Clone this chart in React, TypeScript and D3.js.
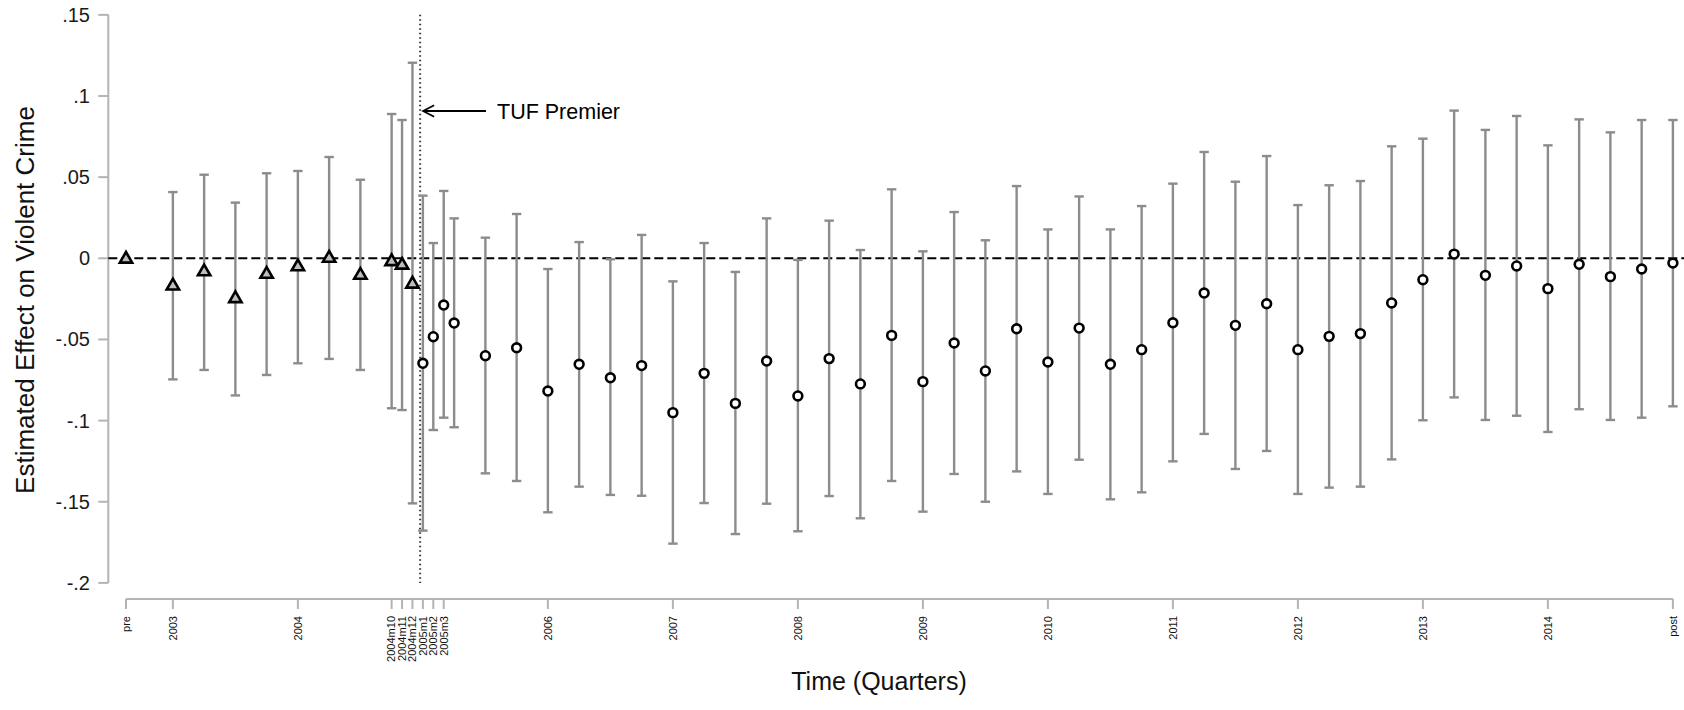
import React from "react";
import * as d3 from "d3";

// ---- data ----
const periods = [
  "pre", "2003q1", "2003q2", "2003q3", "2003q4", "2004q1", "2004q2", "2004q3",
  "2004m10", "2004m11", "2004m12",
  "2005m1", "2005m2", "2005m3", "2005q2", "2005q3", "2005q4",
  "2006q1", "2006q2", "2006q3", "2006q4",
  "2007q1", "2007q2", "2007q3", "2007q4",
  "2008q1", "2008q2", "2008q3", "2008q4",
  "2009q1", "2009q2", "2009q3", "2009q4",
  "2010q1", "2010q2", "2010q3", "2010q4",
  "2011q1", "2011q2", "2011q3", "2011q4",
  "2012q1", "2012q2", "2012q3", "2012q4",
  "2013q1", "2013q2", "2013q3", "2013q4",
  "2014q1", "2014q2", "2014q3", "2014q4",
  "post",
];

const estimates = [
  0, -0.0165, -0.0078, -0.0243, -0.0093, -0.0047, 0.0006, -0.0099,
  -0.0015, -0.0037, -0.0154,
  -0.0647, -0.0483, -0.0288, -0.0399, -0.06, -0.0551,
  -0.0818, -0.0653, -0.0736, -0.0661,
  -0.0951, -0.0709, -0.0894, -0.0633,
  -0.0848, -0.0618, -0.0774, -0.0475,
  -0.076, -0.0522, -0.0694, -0.0434,
  -0.0639, -0.043, -0.0653, -0.0563,
  -0.0397, -0.0214, -0.0413, -0.028,
  -0.0563, -0.0481, -0.0464, -0.0275,
  -0.0132, 0.0026, -0.0105, -0.0047,
  -0.0187, -0.0037, -0.0113, -0.0066,
  -0.0029,
];

const upper = [
  null, 0.0408, 0.0515, 0.0343, 0.0524, 0.0538, 0.0624, 0.0484,
  0.0889, 0.0852, 0.1205,
  0.0386, 0.0094, 0.0415, 0.0246, 0.0127, 0.0273,
  -0.0066, 0.01, -0.0006, 0.0144,
  -0.0142, 0.0094, -0.0084, 0.0246,
  -0.001, 0.0232, 0.0051, 0.0425,
  0.0043, 0.0285, 0.0111, 0.0445,
  0.0178, 0.0381, 0.0178, 0.0322,
  0.046, 0.0655, 0.0472, 0.063,
  0.0328, 0.045, 0.0476, 0.069,
  0.0737, 0.091, 0.0791, 0.0877,
  0.0696, 0.0856, 0.0776, 0.0852,
  0.0852,
];

const lower = [
  null, -0.0746, -0.0688, -0.0845, -0.0719, -0.0647, -0.062, -0.0688,
  -0.0924, -0.0935, -0.151,
  -0.1678, -0.1058, -0.0982, -0.1041, -0.1325, -0.1372,
  -0.1565, -0.1407, -0.1458, -0.1463,
  -0.1758, -0.1508, -0.1699, -0.1512,
  -0.1682, -0.1465, -0.1602, -0.1372,
  -0.1561, -0.1329, -0.15, -0.1313,
  -0.1452, -0.1241, -0.1485, -0.1442,
  -0.1251, -0.1082, -0.1298, -0.1187,
  -0.1452, -0.1413, -0.1407, -0.1239,
  -0.0998, -0.0857, -0.0996, -0.097,
  -0.107, -0.093, -0.0996, -0.0982,
  -0.0912,
];

const xTickLabels = [
  "pre", "2003", "2004", "2004m10", "2004m11", "2004m12", "2005m1", "2005m2", "2005m3",
  "2006", "2007", "2008", "2009", "2010", "2011", "2012", "2013", "2014", "post",
];

const yTicks = [0.15, 0.1, 0.05, 0, -0.05, -0.1, -0.15, -0.2];
const yTickLabels = [".15", ".1", ".05", "0", "-.05", "-.1", "-.15", "-.2"];

const eventTime = 2004.978; // TUF Premier
const eventLabel = "TUF Premier";
const xTitle = "Time (Quarters)";
const yTitle = "Estimated Effect on Violent Crime";

// map a period label to continuous time (years)
function toTime(p: string): number {
  if (p === "pre") return 2002.625;
  if (p === "post") return 2015;
  if (/^\d{4}$/.test(p)) return +p;
  const mq = p.match(/^(\d{4})q(\d)$/);
  if (mq) return +mq[1] + (+mq[2] - 1) / 4;
  const mm = p.match(/^(\d{4})m(\d+)$/);
  if (mm) return +mm[1] + (+mm[2] - 1) / 12;
  return NaN;
}

const W = 1684;
const H = 710;

export default function App() {
  const x = d3.scaleLinear().domain([2002.625, 2015]).range([126, 1672.9]);
  const y = d3.scaleLinear().domain([-0.2, 0.15]).range([582.9, 14.85]);

  const axisColor = "#b4b4b4";
  const barColor = "#8c8c8c";
  const font = "'Liberation Sans', Arial, sans-serif";

  const xAxisY = 599;
  const yAxisX = 108.3;

  const tri = d3.symbol().type(d3.symbolTriangle).size(66)();

  return (
    <svg
      width={W}
      height={H}
      style={{ position: "absolute", left: 0, top: 0, display: "block", background: "#fff" }}
      fontFamily={font}
    >
      <rect x={0} y={0} width={W} height={H} fill="#fff" />

      {/* Y axis */}
      <line x1={yAxisX} x2={yAxisX} y1={y(0.15)} y2={y(-0.2)} stroke={axisColor} strokeWidth={2} />
      {yTicks.map((t, i) => (
        <g key={"yt" + i}>
          <line x1={yAxisX - 10} x2={yAxisX} y1={y(t)} y2={y(t)} stroke={axisColor} strokeWidth={2} />
          <text
            x={90}
            y={y(t)}
            dy="0.35em"
            textAnchor="end"
            fontSize={20}
            fill="#1a1a1a"
          >
            {yTickLabels[i]}
          </text>
        </g>
      ))}
      <text
        transform={`translate(34, 300) rotate(-90)`}
        textAnchor="middle"
        fontSize={26}
        fill="#111"
      >
        {yTitle}
      </text>

      {/* X axis */}
      <line x1={x(2002.625)} x2={x(2015)} y1={xAxisY} y2={xAxisY} stroke={axisColor} strokeWidth={2} />
      {xTickLabels.map((lab, i) => {
        const xv = x(toTime(lab));
        return (
          <g key={"xt" + i}>
            <line x1={xv} x2={xv} y1={xAxisY} y2={xAxisY + 10} stroke={axisColor} strokeWidth={2} />
            <text
              transform={`translate(${xv}, ${xAxisY + 17}) rotate(-90)`}
              textAnchor="end"
              dy="0.35em"
              fontSize={11}
              fill="#111"
            >
              {lab}
            </text>
          </g>
        );
      })}
      <text x={879} y={690} textAnchor="middle" fontSize={25} fill="#111">
        {xTitle}
      </text>

      {/* zero reference line */}
      <line
        x1={yAxisX}
        x2={W}
        y1={y(0)}
        y2={y(0)}
        stroke="#000"
        strokeWidth={2}
        strokeDasharray="9,4"
      />

      {/* event line */}
      <line
        x1={x(eventTime)}
        x2={x(eventTime)}
        y1={y(0.15)}
        y2={y(-0.2)}
        stroke="#333"
        strokeWidth={2}
        strokeDasharray="1.5,3"
      />

      {/* error bars */}
      {periods.map((p, i) => {
        if (upper[i] == null || lower[i] == null) return null;
        const xv = x(toTime(p));
        const y1 = y(upper[i] as number);
        const y2 = y(lower[i] as number);
        return (
          <g key={"eb" + i} stroke={barColor} strokeWidth={2.4}>
            <line x1={xv} x2={xv} y1={y1} y2={y2} />
            <line x1={xv - 4.7} x2={xv + 4.7} y1={y1} y2={y1} />
            <line x1={xv - 4.7} x2={xv + 4.7} y1={y2} y2={y2} />
          </g>
        );
      })}

      {/* markers */}
      {periods.map((p, i) => {
        const xv = x(toTime(p));
        const yv = y(estimates[i]);
        const isPre = toTime(p) < eventTime;
        if (isPre) {
          return (
            <path
              key={"m" + i}
              d={tri}
              transform={`translate(${xv}, ${yv + 0.8})`}
              fill="#bdbdbd"
              stroke="#000"
              strokeWidth={2.6}
            />
          );
        }
        return (
          <circle
            key={"m" + i}
            cx={xv}
            cy={yv}
            r={4.4}
            fill="#fff"
            stroke="#000"
            strokeWidth={2.6}
          />
        );
      })}

      {/* annotation */}
      <g stroke="#000" strokeWidth={1.8} fill="none">
        <line x1={x(eventTime) + 3} x2={486} y1={111} y2={111} />
        <polyline
          points={`${x(eventTime) + 14},${105.3} ${x(eventTime) + 3},${111} ${x(eventTime) + 14},${116.7}`}
        />
      </g>
      <text x={497} y={119} fontSize={21.5} fill="#000">
        {eventLabel}
      </text>
    </svg>
  );
}
